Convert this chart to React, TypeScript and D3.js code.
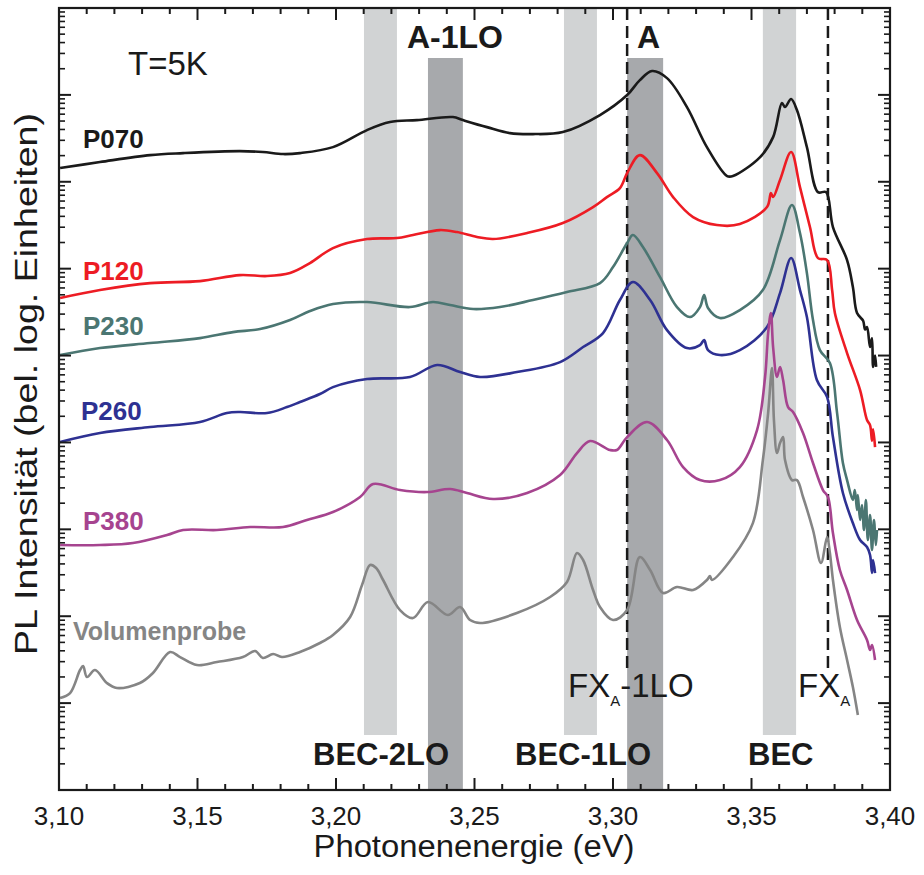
import React from "react";
import * as d3 from "d3";

// ---------- data ----------
// energies in eV, intensities as log10 (arbitrary units)
const xTickValues = [3.1, 3.15, 3.2, 3.25, 3.3, 3.35, 3.4];
const xTickLabels = ["3,10", "3,15", "3,20", "3,25", "3,30", "3,35", "3,40"];
const yDecades = [0, 1, 2, 3, 4, 5, 6, 7, 8, 9];

const seriesNames = ["P070", "P120", "P230", "P260", "P380", "Volumenprobe"];

const p070: [number, number][] = [
  [3.1004, 7.158], [3.1148, 7.227], [3.1329, 7.307], [3.1448, 7.33], [3.1653, 7.353], [3.1736, 7.342],
  [3.1809, 7.319], [3.187, 7.33], [3.1989, 7.399], [3.2112, 7.595], [3.2195, 7.687], [3.2292, 7.71],
  [3.2422, 7.745], [3.2458, 7.71], [3.2545, 7.629], [3.2628, 7.56], [3.2711, 7.549], [3.2819, 7.572],
  [3.2953, 7.768], [3.3051, 7.998], [3.3097, 8.17], [3.3141, 8.274], [3.3195, 8.193], [3.3267, 7.86],
  [3.3339, 7.399], [3.3412, 7.066], [3.3433, 7.066], [3.3531, 7.284], [3.3578, 7.514], [3.361, 7.906],
  [3.3621, 7.86], [3.3643, 7.952], [3.3664, 7.825], [3.37, 7.399], [3.374, 6.881], [3.3769, 6.881],
  [3.3794, 6.479], [3.3845, 6.099], [3.3866, 5.788], [3.3881, 5.489], [3.3903, 5.4], [3.391, 5.3],
  [3.3917, 5.328], [3.3928, 5.098], [3.3935, 5.2], [3.3939, 4.868], [3.3946, 5.0], [3.395, 4.87],
];

const p120: [number, number][] = [
  [3.1004, 5.662], [3.1148, 5.754], [3.1329, 5.834], [3.1509, 5.857], [3.1653, 5.926], [3.1751, 5.915],
  [3.1834, 5.949], [3.1906, 6.064], [3.1989, 6.237], [3.2112, 6.341], [3.222, 6.352], [3.2278, 6.387],
  [3.2375, 6.444], [3.2437, 6.421], [3.2509, 6.364], [3.2567, 6.341], [3.269, 6.41], [3.2819, 6.525],
  [3.2928, 6.709], [3.2978, 6.824], [3.3025, 6.927], [3.3051, 7.1], [3.3097, 7.307], [3.3159, 7.1],
  [3.3217, 6.824], [3.3289, 6.594], [3.3375, 6.502], [3.3458, 6.513], [3.3556, 6.709], [3.357, 6.87],
  [3.3578, 6.824], [3.3603, 7.02], [3.3643, 7.342], [3.3675, 6.939], [3.3711, 6.479], [3.374, 6.122],
  [3.3773, 6.099], [3.3791, 5.754], [3.3801, 5.489], [3.3845, 5.029], [3.3892, 4.603], [3.3917, 4.258],
  [3.3928, 4.2], [3.3935, 4.02], [3.3939, 4.15], [3.3946, 3.947],
];

const p230: [number, number][] = [
  [3.1004, 5.006], [3.1148, 5.086], [3.1329, 5.144], [3.1509, 5.201], [3.1628, 5.27], [3.1726, 5.305],
  [3.1834, 5.409], [3.1906, 5.512], [3.1989, 5.593], [3.2112, 5.616], [3.2267, 5.558], [3.235, 5.616],
  [3.2412, 5.581], [3.2495, 5.535], [3.2592, 5.558], [3.2711, 5.639], [3.2834, 5.731], [3.2953, 5.834],
  [3.3, 6.018], [3.3051, 6.295], [3.3072, 6.387], [3.3108, 6.249], [3.317, 5.903], [3.3231, 5.558],
  [3.3278, 5.443], [3.3314, 5.558], [3.3329, 5.696], [3.3343, 5.547], [3.3386, 5.432], [3.3458, 5.524],
  [3.3541, 5.754], [3.3603, 6.329], [3.3646, 6.732], [3.3675, 6.41], [3.37, 5.949], [3.3722, 5.409],
  [3.3747, 5.063], [3.3783, 4.914], [3.3809, 4.338], [3.383, 3.763], [3.3845, 3.567], [3.3866, 3.337],
  [3.3873, 3.452], [3.3881, 3.222], [3.3884, 3.395], [3.3892, 3.107], [3.3899, 3.28], [3.3906, 2.992],
  [3.3913, 3.337], [3.392, 2.877], [3.3928, 3.165], [3.3935, 2.762], [3.3942, 3.107], [3.3949, 2.819],
  [3.3953, 2.992],
];

const p260: [number, number][] = [
  [3.1004, 4.005], [3.1148, 4.108], [3.1329, 4.177], [3.1509, 4.235], [3.1606, 4.338], [3.1653, 4.35],
  [3.1751, 4.338], [3.1823, 4.407], [3.187, 4.465], [3.1942, 4.557], [3.1989, 4.637], [3.2112, 4.73],
  [3.2267, 4.753], [3.2365, 4.891], [3.2448, 4.81], [3.252, 4.753], [3.2653, 4.81], [3.2809, 4.925],
  [3.2892, 5.098], [3.2964, 5.259], [3.3025, 5.639], [3.3072, 5.846], [3.3134, 5.639], [3.3195, 5.293],
  [3.3267, 5.086], [3.3314, 5.121], [3.3329, 5.178], [3.3343, 5.063], [3.3386, 5.006], [3.3458, 5.063],
  [3.3556, 5.328], [3.3603, 5.719], [3.3643, 6.122], [3.3675, 5.754], [3.37, 5.443], [3.3736, 4.718],
  [3.3773, 4.522], [3.3794, 4.062], [3.383, 3.418], [3.3866, 3.072], [3.3892, 2.877], [3.3917, 2.796],
  [3.3928, 2.704], [3.3935, 2.497], [3.3939, 2.647], [3.3946, 2.497],
];

const p380: [number, number][] = [
  [3.1004, 2.819], [3.1148, 2.819], [3.1267, 2.842], [3.139, 2.934], [3.1448, 2.992], [3.157, 2.992],
  [3.169, 3.026], [3.1809, 3.026], [3.1895, 3.107], [3.1989, 3.199], [3.2087, 3.372], [3.2134, 3.521],
  [3.2231, 3.452], [3.2329, 3.429], [3.2412, 3.464], [3.2473, 3.418], [3.2567, 3.349], [3.269, 3.418],
  [3.2809, 3.625], [3.287, 3.878], [3.2917, 4.016], [3.2989, 3.913], [3.3014, 3.913], [3.3051, 4.062],
  [3.3123, 4.235], [3.3195, 4.028], [3.3253, 3.717], [3.3314, 3.567], [3.3386, 3.567], [3.3458, 3.717],
  [3.352, 4.143], [3.3549, 4.753], [3.356, 5.259], [3.357, 5.489], [3.3578, 5.098], [3.3592, 4.753],
  [3.3603, 4.868], [3.3614, 4.718], [3.3632, 4.407], [3.365, 4.35], [3.3686, 4.108], [3.3722, 3.763],
  [3.3758, 3.452], [3.3776, 3.372], [3.3794, 2.957], [3.3819, 2.532], [3.3845, 2.302], [3.3881, 1.956],
  [3.3917, 1.726], [3.3928, 1.611], [3.3935, 1.669], [3.3946, 1.496],
];

const volumen: [number, number][] = [
  [3.1004, 1.059], [3.104, 1.116], [3.1076, 1.381], [3.1087, 1.427], [3.1101, 1.3], [3.113, 1.381],
  [3.1173, 1.231], [3.1209, 1.174], [3.1292, 1.231], [3.1339, 1.346], [3.1401, 1.588], [3.1437, 1.53],
  [3.1498, 1.438], [3.157, 1.473], [3.1664, 1.53], [3.1708, 1.6], [3.1736, 1.519], [3.1773, 1.565],
  [3.1805, 1.53], [3.187, 1.588], [3.1942, 1.692], [3.1989, 1.784], [3.2051, 1.991], [3.2094, 2.359],
  [3.2123, 2.589], [3.2145, 2.555], [3.217, 2.417], [3.2231, 2.071], [3.2278, 1.979], [3.2332, 2.163],
  [3.2404, 2.014], [3.2448, 2.106], [3.2484, 1.956], [3.252, 1.922], [3.2653, 2.037], [3.2773, 2.221],
  [3.2834, 2.394], [3.287, 2.727], [3.2892, 2.647], [3.2928, 2.302], [3.2953, 2.106], [3.3, 1.956],
  [3.3051, 2.071], [3.3097, 2.681], [3.3134, 2.532], [3.3181, 2.267], [3.3231, 2.336], [3.3289, 2.302],
  [3.3339, 2.417], [3.335, 2.463], [3.3357, 2.417], [3.3433, 2.681], [3.3505, 3.072], [3.3541, 3.797],
  [3.356, 4.338], [3.3574, 4.856], [3.3581, 4.258], [3.3592, 3.878], [3.3603, 3.993], [3.3614, 4.062],
  [3.3621, 3.797], [3.3646, 3.567], [3.3664, 3.567], [3.3686, 3.372], [3.3722, 2.992], [3.3751, 2.612],
  [3.3773, 2.911], [3.3783, 2.727], [3.3794, 2.417], [3.3819, 1.876], [3.3845, 1.496], [3.3866, 1.185],
  [3.3884, 0.863],
];

const seriesData = [p070, p120, p230, p260, p380, volumen];

// spectral assignment regions (eV)
const lightBands: [number, number][] = [[3.2101, 3.222], [3.2823, 3.2942], [3.3541, 3.3661]];
const darkBands: [number, number][] = [[3.2332, 3.2458], [3.3051, 3.3181]];
const dashedEnergies = [3.3051, 3.3776];

// ---------- styles / layout ----------
const W = 924;
const H = 875;
const PL = 59, PR = 890, PT = 8, PB = 790;
const colors = ["#1a1a1a", "#ed1c24", "#4b7672", "#2e3192", "#a6448f", "#858585"];
const labelPos = [
  { x: 83, y: 148, size: 26 },
  { x: 83, y: 280, size: 26 },
  { x: 83, y: 335, size: 26 },
  { x: 81, y: 420, size: 26 },
  { x: 83, y: 530, size: 26 },
  { x: 73, y: 640, size: 25 },
];
const FONT = "'Liberation Sans', Arial, Helvetica, sans-serif";

export default function App() {
  const x = d3.scaleLinear().domain([3.1, 3.4]).range([PL, PR]);
  const y = d3.scaleLog().domain([1, 1e9]).range([PB, PT]);
  const line = d3
    .line<[number, number]>()
    .x((d) => x(d[0]))
    .y((d) => y(Math.pow(10, d[1])))
    .curve(d3.curveCatmullRom.alpha(0.5));

  const minorX = d3.range(310, 341).map((v) => v / 100).filter((v) => Math.round(v * 100) % 5 !== 0);
  const minorY: number[] = [];
  yDecades.slice(0, -1).forEach((dec) => {
    for (let k = 2; k <= 9; k++) minorY.push(k * Math.pow(10, dec));
  });

  const majLen = 12, minLen = 6;

  return (
    <svg
      width={W}
      height={H}
      style={{ position: "absolute", left: 0, top: 0, background: "#fff" }}
      fontFamily={FONT}
    >
      <rect x={0} y={0} width={W} height={H} fill="#fff" />
      {/* bands */}
      {lightBands.map((b, i) => (
        <rect key={"l" + i} x={x(b[0])} y={PT} width={x(b[1]) - x(b[0])} height={735 - PT} fill="#d1d3d4" />
      ))}
      {darkBands.map((b, i) => (
        <rect key={"d" + i} x={x(b[0])} y={58} width={x(b[1]) - x(b[0])} height={PB - 58} fill="#a7a9ac" />
      ))}
      {/* dashed lines */}
      {dashedEnergies.map((e, i) => (
        <line key={"dl" + i} x1={x(e)} x2={x(e)} y1={PT} y2={668} stroke="#1a1a1a" strokeWidth={2.5} strokeDasharray="12,6" />
      ))}
      {/* curves */}
      {seriesData.map((s, i) => (
        <path key={"s" + i} d={line(s) || ""} fill="none" stroke={colors[i]} strokeWidth={2.6} strokeLinejoin="round" />
      ))}
      {/* frame */}
      <rect x={PL} y={PT} width={PR - PL} height={PB - PT} fill="none" stroke="#1a1a1a" strokeWidth={2.2} />
      {/* x ticks */}
      {xTickValues.map((v, i) => (
        <g key={"xt" + i}>
          <line x1={x(v)} x2={x(v)} y1={PB} y2={PB - majLen} stroke="#1a1a1a" strokeWidth={2} />
          <line x1={x(v)} x2={x(v)} y1={PT} y2={PT + majLen} stroke="#1a1a1a" strokeWidth={2} />
          <text x={x(v)} y={825} fontSize={26} textAnchor="middle" fill="#1a1a1a">
            {xTickLabels[i]}
          </text>
        </g>
      ))}
      {minorX.map((v, i) => (
        <g key={"xm" + i}>
          <line x1={x(v)} x2={x(v)} y1={PB} y2={PB - minLen} stroke="#1a1a1a" strokeWidth={2} />
          <line x1={x(v)} x2={x(v)} y1={PT} y2={PT + minLen} stroke="#1a1a1a" strokeWidth={2} />
        </g>
      ))}
      {/* y ticks */}
      {yDecades.map((d, i) => (
        <g key={"yt" + i}>
          <line x1={PL} x2={PL + majLen} y1={y(Math.pow(10, d))} y2={y(Math.pow(10, d))} stroke="#1a1a1a" strokeWidth={2} />
          <line x1={PR} x2={PR - majLen} y1={y(Math.pow(10, d))} y2={y(Math.pow(10, d))} stroke="#1a1a1a" strokeWidth={2} />
        </g>
      ))}
      {minorY.map((v, i) => (
        <g key={"ym" + i}>
          <line x1={PL} x2={PL + minLen} y1={y(v)} y2={y(v)} stroke="#1a1a1a" strokeWidth={1.6} />
          <line x1={PR} x2={PR - minLen} y1={y(v)} y2={y(v)} stroke="#1a1a1a" strokeWidth={1.6} />
        </g>
      ))}
      {/* axis titles */}
      <text x={474} y={857} fontSize={31} textAnchor="middle" fill="#1a1a1a" textLength={321} lengthAdjust="spacingAndGlyphs">
        Photonenenergie (eV)
      </text>
      <text
        transform={`translate(37,384) rotate(-90)`}
        fontSize={31}
        textAnchor="middle"
        fill="#1a1a1a"
        textLength={542}
        lengthAdjust="spacingAndGlyphs"
      >
        PL Intensität (bel. log. Einheiten)
      </text>
      {/* series labels */}
      {seriesNames.map((n, i) => (
        <text key={"n" + i} x={labelPos[i].x} y={labelPos[i].y} fontSize={labelPos[i].size} fontWeight="bold" fill={colors[i]}>
          {n}
        </text>
      ))}
      {/* annotations */}
      <text x={128} y={75} fontSize={33} fill="#1a1a1a">T=5K</text>
      <text x={407} y={48} fontSize={32} fontWeight="bold" fill="#1a1a1a">A-1LO</text>
      <text x={637} y={48} fontSize={32} fontWeight="bold" fill="#1a1a1a">A</text>
      <text x={313} y={765} fontSize={31} fontWeight="bold" fill="#1a1a1a">BEC-2LO</text>
      <text x={515} y={765} fontSize={31} fontWeight="bold" fill="#1a1a1a">BEC-1LO</text>
      <text x={748} y={765} fontSize={31} fontWeight="bold" fill="#1a1a1a">BEC</text>
      <text x={568} y={697} fontSize={33} fill="#1a1a1a">
        FX<tspan fontSize={15} dy={9}>A</tspan>
        <tspan dy={-9}>-1LO</tspan>
      </text>
      <text x={798} y={697} fontSize={33} fill="#1a1a1a">
        FX<tspan fontSize={15} dy={9}>A</tspan>
      </text>
    </svg>
  );
}
